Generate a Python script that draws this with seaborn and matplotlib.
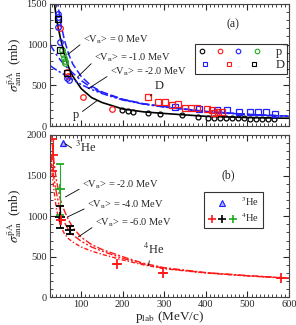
import numpy as np
import pandas as pd
import matplotlib
matplotlib.use("Agg")
import matplotlib.pyplot as plt
import seaborn as sns
from matplotlib.ticker import MultipleLocator
from matplotlib.lines import Line2D
from matplotlib.legend_handler import HandlerTuple

# ---------------- panel (a): pbar-p and pbar-D ----------------
# black solid curve (pbar p)
p_curve_p = [35, 40, 50, 60, 70, 80, 100, 125, 150, 200, 250, 300, 400, 500, 600]
sig_curve_p = [1540, 1330, 1080, 880, 720, 610, 460, 350, 290, 210, 175, 155, 120, 105, 96]

# blue curves (pbar D) for <Vn> = 0, -1, -2 MeV
p_curve_d = [26, 30, 40, 50, 60, 70, 80, 100, 125, 150, 200, 250, 300, 400, 500, 600]
sig_d_v0 = [np.nan, np.nan, 1650, 1280, 1050, 880, 760, 610, 490, 420, 330, 275, 240, 180, 145, 122]
sig_d_v1 = [1000, 960, 880, 810, 750, 700, 650, 560, 470, 410, 325, 272, 236, 178, 143, 121]
sig_d_v2 = [740, 725, 690, 660, 630, 600, 570, 510, 450, 400, 320, 270, 234, 177, 142, 120]

# pbar p data
p_black_c = [199, 213, 225, 261, 290, 343, 381, 405, 420, 434, 448, 463, 477, 492, 506, 520, 535, 549, 564]
s_black_c = [197, 185, 175, 160, 150, 135, 115, 105, 103, 101, 99, 97, 96, 94, 93, 92, 91, 90, 89]
p_red_c = [48, 67, 68, 105, 175]
s_red_c = [1200, 665, 615, 357, 215]
p_blue_c = [43, 44, 45, 50, 67, 70]
s_blue_c = [1370, 1340, 1220, 1035, 590, 565]
p_green_c = [55, 57, 58, 60, 62]
s_green_c = [935, 880, 840, 800, 775]

# pbar D data
p_blue_s = [326, 384, 427, 451, 480, 506, 525, 544, 566]
s_blue_s = [230, 215, 200, 195, 175, 172, 170, 170, 150]
p_red_s = [261, 285, 302, 319, 333, 350, 364, 379, 403, 415, 420, 429, 439]
s_red_s = [360, 295, 295, 258, 270, 221, 221, 221, 209, 197, 160, 172, 172]
p_black_s = [43, 50, 67]
s_black_s = [1320, 930, 650]

# ---------------- panel (b): pbar-He ----------------
p_curve_he = [28, 30, 35, 40, 50, 60, 70, 80, 100, 125, 150, 200, 250, 300, 400, 500, 600]
sig_he_v2 = [2050, 1900, 1650, 1450, 1200, 1060, 950, 860, 740, 650, 590, 500, 420, 365, 305, 268, 238]
sig_he_v4 = [1750, 1600, 1450, 1300, 1050, 920, 830, 770, 690, 620, 570, 480, 410, 358, 302, 266, 236]
sig_he_v6 = [1650, 1520, 1300, 1100, 880, 780, 720, 680, 620, 570, 530, 460, 400, 352, 300, 264, 234]

p_he3 = [57]
s_he3 = [1900]
p_he4_red = [31, 52, 187, 297, 580]
s_he4_red = [1750, 950, 410, 300, 240]
e_he4_red = [200, 0, 0, 0, 0]
p_he4_black = [50, 74]
s_he4_black = [990, 830]
e_he4_black = [130, 50]
p_he4_green = [50]
s_he4_green = [1330]
e_he4_green = [310]

sns.set_theme(style="ticks")
plt.rcParams["font.family"] = ["Liberation Serif", "DejaVu Serif"]
plt.rcParams["mathtext.fontset"] = "stix"

fig = plt.figure(figsize=(2.96, 3.25), dpi=100)
ax1 = fig.add_axes([0.169, 0.612, 0.807, 0.376])
ax2 = fig.add_axes([0.169, 0.085, 0.807, 0.5])

blue = "#1f1fff"
red = "#ff1a1a"
green = "#22aa22"
ms = 4

# panel (a) curves
sns.lineplot(x=p_curve_p, y=sig_curve_p, ax=ax1, color="black", lw=1.2, sort=False)
ax1.plot(p_curve_d, sig_d_v0, color=blue, lw=1.1, ls=(0, (5, 2)))
ax1.plot(p_curve_d, sig_d_v1, color=blue, lw=1.1, ls=(0, (5, 2, 1.5, 2)))
ax1.plot(p_curve_d, sig_d_v2, color=blue, lw=1.1, ls=(0, (5, 1.5, 1.5, 1.5, 1.5, 1.5)))

def open_pts(ax, x, y, color, marker, size=ms):
    ax.plot(x, y, ls="none", marker=marker, ms=size, mfc="none", mec=color, mew=0.9)

open_pts(ax1, p_black_c, s_black_c, "black", "o", 3.5)
open_pts(ax1, p_red_c, s_red_c, red, "o")
open_pts(ax1, p_blue_c, s_blue_c, blue, "o")
open_pts(ax1, p_green_c, s_green_c, green, "o")
open_pts(ax1, p_blue_s, s_blue_s, blue, "s")
open_pts(ax1, p_red_s, s_red_s, red, "s")
open_pts(ax1, p_black_s, s_black_s, "black", "s")

ax1.set_xlim(25, 600)
ax1.set_ylim(0, 1500)
ax1.yaxis.set_major_locator(MultipleLocator(500))
ax1.yaxis.set_minor_locator(MultipleLocator(100))
ax1.set_xticklabels([])

fs = 7.5
lp = dict(arrowstyle="-", lw=0.6, color="black", shrinkA=0, shrinkB=0, relpos=(0, 0.3))
ax1.annotate("<V$_{\\rm n}$> = 0 MeV", xy=(68, 880), xytext=(105, 1060), fontsize=fs,
             va="center", arrowprops=lp)
ax1.annotate("<V$_{\\rm n}$> = -1.0 MeV", xy=(91, 600), xytext=(132, 836), fontsize=fs,
             va="center", arrowprops=lp)
ax1.annotate("<V$_{\\rm n}$> = -2.0 MeV", xy=(117, 460), xytext=(170, 664), fontsize=fs,
             va="center", arrowprops=lp)
ax1.annotate("p", xy=(139, 315), xytext=(80, 135), fontsize=9, va="center",
             arrowprops=dict(lp, relpos=(1, 0.6)))
ax1.annotate("D", xy=(266, 369), xytext=(278, 492), fontsize=9, va="center",
             arrowprops=dict(lp, relpos=(0, 0)))
ax1.text(466, 1255, "(a)", fontsize=8.5, ha="center", va="center")

lms = 3.3
h_p = tuple(Line2D([], [], ls="none", marker="o", ms=lms, mfc="none", mec=c, mew=0.8)
            for c in ["black", red, blue, green])
h_d = tuple(Line2D([], [], ls="none", marker="s", ms=lms, mfc="none", mec=c, mew=0.8)
            for c in [blue, red, "black"])
leg = ax1.legend([h_p, h_d], ["p", "D"], handler_map={tuple: HandlerTuple(ndivide=None, pad=0.9)},
                 handlelength=5.0, loc="upper right", bbox_to_anchor=(0.992, 0.672),
                 fontsize=9, frameon=True, fancybox=False, edgecolor="black",
                 borderpad=0.2, labelspacing=0.05, handletextpad=1.2, borderaxespad=0)
leg.get_frame().set_linewidth(0.8)

# panel (b) curves
ax2.plot(p_curve_he, sig_he_v2, color=red, lw=1.0, ls=(0, (5, 1.5, 1.5, 1.5)))
ax2.plot(p_curve_he, sig_he_v4, color=red, lw=1.0, ls=(0, (5, 1.5, 1.5, 1.5, 1.5, 1.5)))
ax2.plot(p_curve_he, sig_he_v6, color=red, lw=1.0, ls=(0, (3, 1.5, 1, 1.5)))

ax2.plot(p_he3, s_he3, ls="none", marker="^", ms=5, mfc="#aab0ff", mec=blue, mew=0.9)
ax2.errorbar(p_he4_green, s_he4_green, yerr=e_he4_green, fmt="+", color=green, ms=7, mew=1.3,
             elinewidth=0.8, capsize=3)
ax2.errorbar(p_he4_black, s_he4_black, yerr=e_he4_black, fmt="+", color="black", ms=7, mew=1.3,
             elinewidth=0.8, capsize=3)
ax2.errorbar(p_he4_red, s_he4_red, yerr=e_he4_red, fmt="+", color=red, ms=7, mew=1.3,
             elinewidth=0.8, capsize=3)

ax2.set_xlim(25, 600)
ax2.set_ylim(0, 2000)
ax2.yaxis.set_major_locator(MultipleLocator(500))
ax2.yaxis.set_minor_locator(MultipleLocator(100))

ax2.annotate("<V$_{\\rm n}$> = -2.0 MeV", xy=(62, 1236), xytext=(103, 1384), fontsize=fs,
             va="center", arrowprops=lp)
ax2.annotate("<V$_{\\rm n}$> = -4.0 MeV", xy=(67, 990), xytext=(115, 1138), fontsize=fs,
             va="center", arrowprops=lp)
ax2.annotate("<V$_{\\rm n}$> = -6.0 MeV", xy=(93, 744), xytext=(134, 916), fontsize=fs,
             va="center", arrowprops=lp)
ax2.annotate("$^4$He", xy=(262, 390), xytext=(250, 584), fontsize=9, va="center",
             arrowprops=dict(lp, relpos=(0.3, 0)))
ax2.annotate("$^3$He", xy=(62, 1890), xytext=(85, 1850), fontsize=9, va="center",
             arrowprops=lp)
ax2.text(454, 1507, "(b)", fontsize=8.5, ha="center", va="center")

h_he3 = Line2D([], [], ls="none", marker="^", ms=4, mfc="#aab0ff", mec=blue, mew=0.8)
h_he4 = tuple(Line2D([], [], ls="none", marker="+", ms=5.5, mew=1.2, color=c)
              for c in [red, "black", green])
leg2 = ax2.legend([h_he3, h_he4], ["$^3$He", "$^4$He"],
                  handler_map={tuple: HandlerTuple(ndivide=None, pad=0.2)},
                  handlelength=2.8, loc="upper right", bbox_to_anchor=(0.891, 0.649),
                  fontsize=7.5, frameon=True, fancybox=False, edgecolor="black",
                  borderpad=0.35, labelspacing=0.3, handletextpad=0.4, borderaxespad=0)
leg2.get_frame().set_linewidth(0.8)

for ax in (ax1, ax2):
    ax.xaxis.set_major_locator(MultipleLocator(100))
    ax.xaxis.set_minor_locator(MultipleLocator(10))
    ax.tick_params(which="both", direction="in", top=True, right=True, labelsize=7.5, pad=2)
    ax.tick_params(which="major", length=4, width=0.8)
    ax.tick_params(which="minor", length=2, width=0.6)
    for s in ax.spines.values():
        s.set_linewidth(0.8)
        s.set_color("#444444")
    ax.set_xlabel("")
    ax.set_ylabel(r"$\sigma^{\bar{\rm p}{\rm A}}_{\rm ann}$  (mb)", fontsize=9.5, labelpad=2)

ax2.set_xlabel(r"p$_{\rm lab}$ (MeV/c)", fontsize=9.5, labelpad=0)

fig.savefig("out.png", dpi=100)
